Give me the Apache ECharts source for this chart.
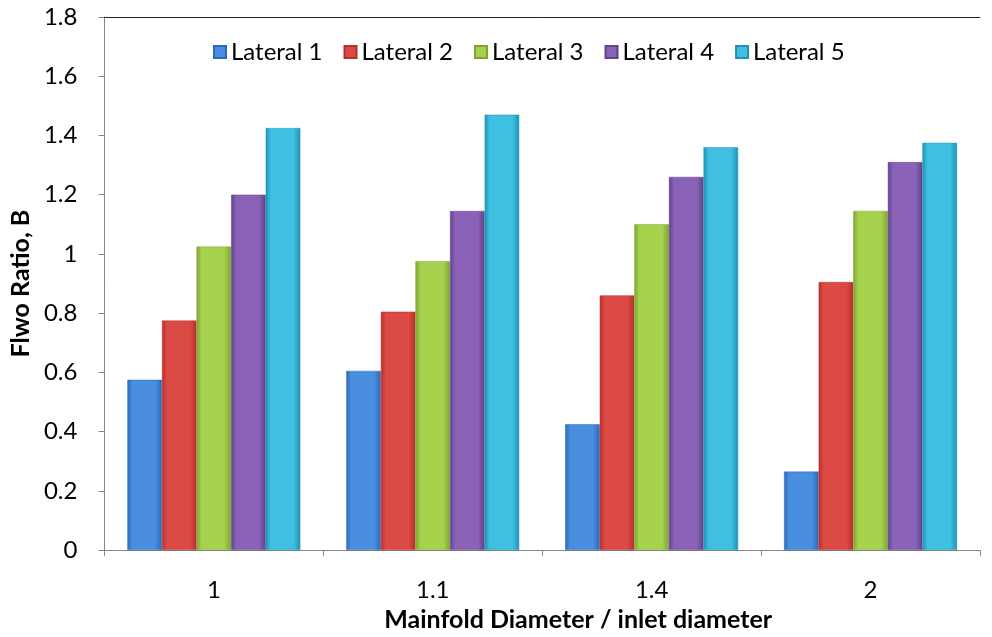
<!DOCTYPE html>
<html>
<head>
<meta charset="utf-8">
<script src="https://cdn.jsdelivr.net/npm/echarts@6/dist/echarts.min.js"></script>
<style>
  html, body { margin: 0; padding: 0; background: #fff; }
  #main { width: 992px; height: 637px; }
</style>
</head>
<body>
<div id="main"></div>
<script>
// 数据
var categories = ['1', '1.1', '1.4', '2'];
var seriesNames = ['Lateral 1', 'Lateral 2', 'Lateral 3', 'Lateral 4', 'Lateral 5'];
var lateral1 = [0.575, 0.605, 0.425, 0.265];
var lateral2 = [0.775, 0.805, 0.86, 0.905];
var lateral3 = [1.025, 0.975, 1.1, 1.145];
var lateral4 = [1.2, 1.145, 1.26, 1.31];
var lateral5 = [1.425, 1.47, 1.36, 1.375];
var yTicks = [0, 0.2, 0.4, 0.6, 0.8, 1, 1.2, 1.4, 1.6, 1.8];

// 颜色 [边, 中间]
var palette = [
  ['#2f68b4', '#4a8ee0'],
  ['#b8302c', '#dc4a45'],
  ['#7ea534', '#a6d24e'],
  ['#62418a', '#8a63b8'],
  ['#1f93b4', '#3fc0e2']
];

var chart = echarts.init(document.getElementById('main'));
var font = 'Lato, "Open Sans", sans-serif';

function barSeries(i, data) {
  var c = palette[i];
  return {
    name: seriesNames[i],
    type: 'bar',
    data: data,
    barGap: '0%',
    barCategoryGap: '21%',
    itemStyle: {
      color: new echarts.graphic.LinearGradient(0, 0, 1, 0, [
        { offset: 0, color: c[0] },
        { offset: 0.15, color: c[1] },
        { offset: 0.8, color: c[1] },
        { offset: 1, color: c[0] }
      ]),
      borderColor: c[0],
      borderWidth: 0.5
    }
  };
}

var option = {
  animation: false,
  textStyle: { fontFamily: font },
  legend: {
    top: 35,
    left: 208,
    itemWidth: 12,
    itemHeight: 12,
    itemGap: 21,
    icon: 'rect',
    textStyle: { fontSize: 24, color: '#000', fontFamily: font },
    data: seriesNames
  },
  grid: {
    left: 101,
    right: 12,
    top: 17,
    bottom: 84
  },
  xAxis: [{
    type: 'category',
    data: categories,
    name: 'Mainfold Diameter / inlet diameter',
    nameLocation: 'middle',
    nameGap: 56,
    nameTextStyle: { fontSize: 25, fontWeight: 'bold', color: '#000', fontFamily: font, padding: [0, 0, 0, 72] },
    axisLine: { lineStyle: { color: '#868686', width: 1 } },
    axisTick: { show: true, alignWithLabel: false, length: 6, lineStyle: { color: '#868686' } },
    axisLabel: { fontSize: 24, color: '#000', margin: 28 }
  }, {
    type: 'category',
    data: categories,
    position: 'top',
    axisLine: { show: true, lineStyle: { color: '#222', width: 1 } },
    axisTick: { show: false },
    axisLabel: { show: false }
  }],
  yAxis: {
    type: 'value',
    min: 0,
    max: 1.8,
    interval: 0.2,
    name: 'Flwo Ratio, B',
    nameLocation: 'middle',
    nameGap: 66,
    nameTextStyle: { fontSize: 25, fontWeight: 'bold', color: '#000', fontFamily: font },
    axisLine: { show: true, lineStyle: { color: '#868686', width: 1 } },
    axisTick: { show: true, length: 6, lineStyle: { color: '#868686' } },
    splitLine: { show: false },
    axisLabel: {
      fontSize: 24,
      color: '#000',
      margin: 27,
      formatter: function (v) {
        for (var k = 0; k < yTicks.length; k++) {
          if (Math.abs(yTicks[k] - v) < 1e-6) return String(yTicks[k]);
        }
        return '';
      }
    }
  },
  series: [
    barSeries(0, lateral1),
    barSeries(1, lateral2),
    barSeries(2, lateral3),
    barSeries(3, lateral4),
    barSeries(4, lateral5)
  ]
};

chart.setOption(option);
</script>
</body>
</html>
